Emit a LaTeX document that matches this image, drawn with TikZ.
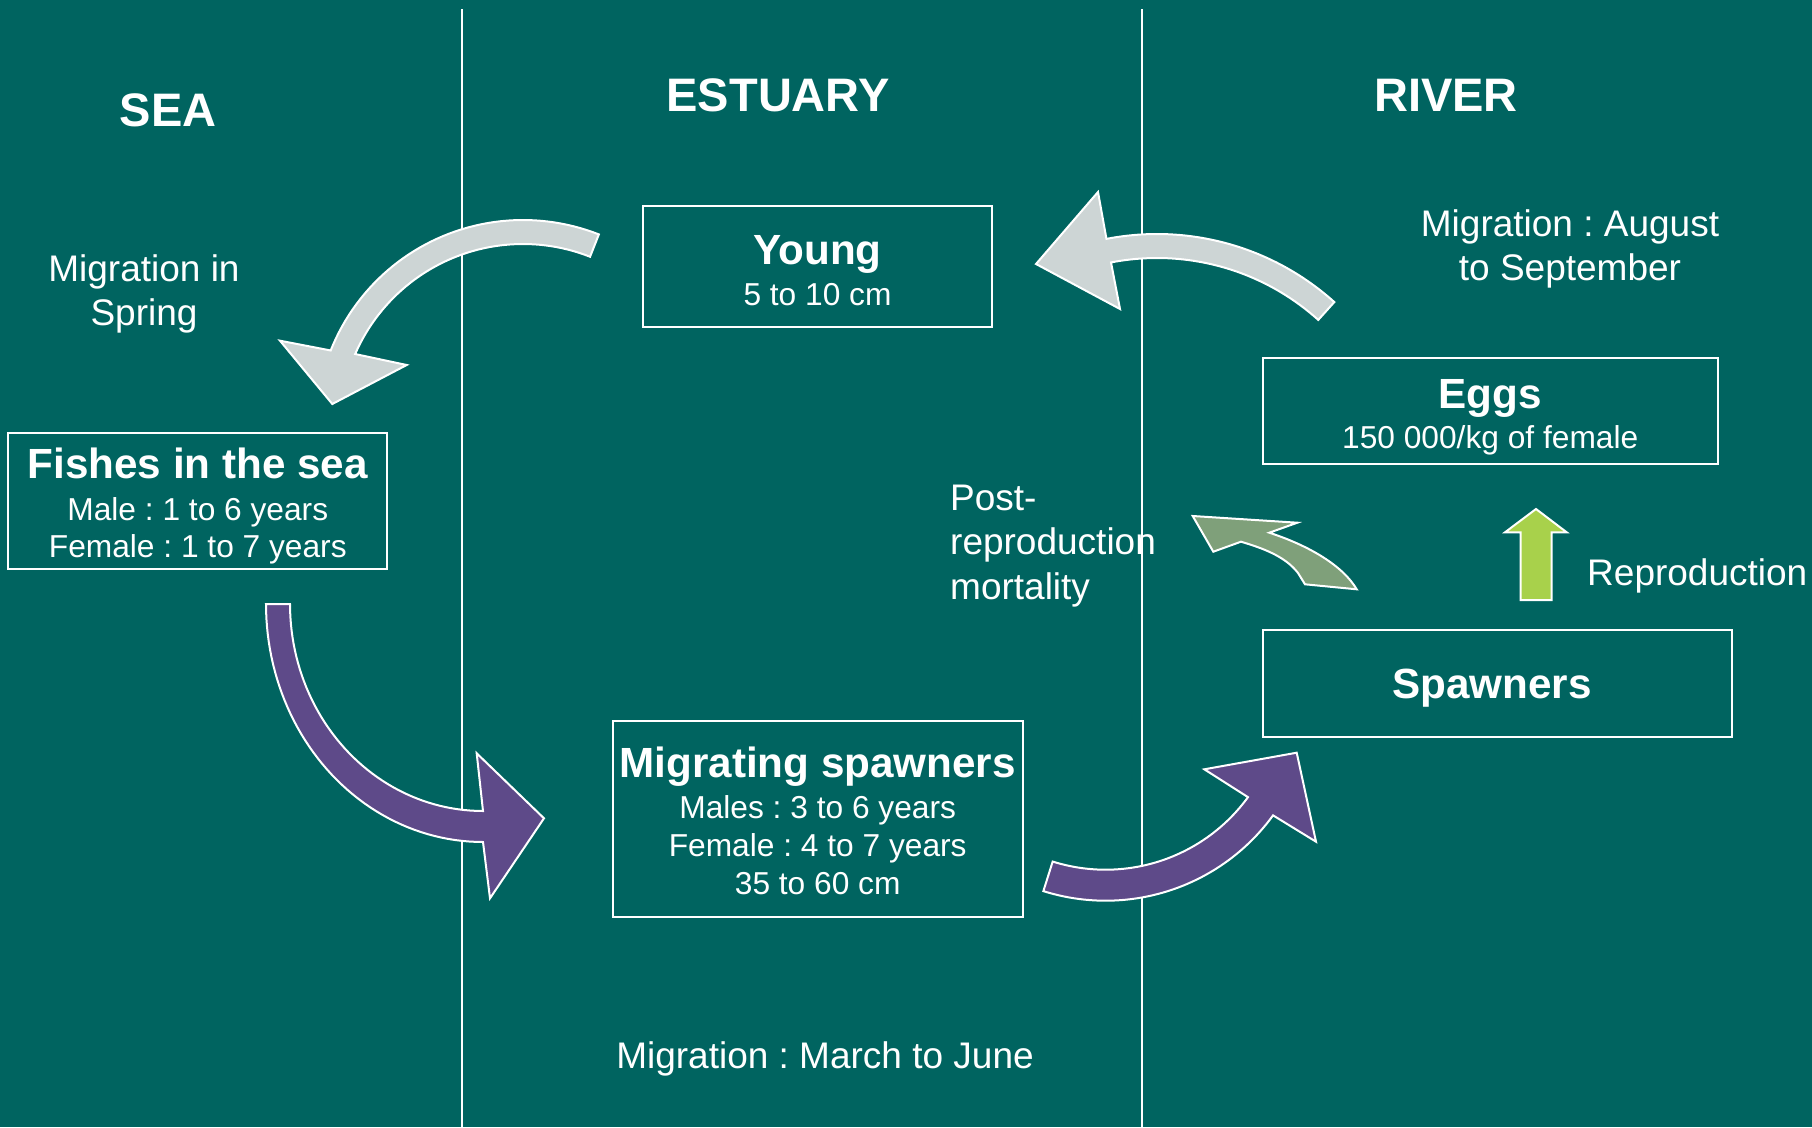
\documentclass[tikz,border=0pt]{standalone}
\usepackage{fontspec}
\setmainfont{Liberation Sans}
\frenchspacing
\definecolor{bgteal}{RGB}{0,100,96}
\definecolor{greyarr}{RGB}{205,213,213}
\definecolor{purplearr}{RGB}{94,74,137}
\definecolor{mortgreen}{RGB}{127,160,122}
\definecolor{repgreen}{RGB}{168,209,75}
\begin{document}
\frenchspacing
\begin{tikzpicture}[x=1pt,y=-1pt,
  box/.style={draw=white, line width=2pt, inner sep=0pt, outer sep=0pt},
  ttl/.style={text=white, font=\fontsize{47}{56}\selectfont\bfseries, inner sep=0pt, anchor=base},
  hd/.style={text=white, font=\fontsize{42.2}{50}\selectfont\bfseries, inner sep=0pt, anchor=base},
  sb/.style={text=white, font=\fontsize{31.7}{38}\selectfont, inner sep=0pt, anchor=base},
  lbl/.style={text=white, font=\fontsize{37}{44}\selectfont, inner sep=0pt, anchor=base},
  lbll/.style={lbl, anchor=base west},
  blk/.style={draw=white, line width=2pt, line join=miter}]

% background and bounding box
\fill[bgteal] (0,0) rectangle (1812,1127);
\useasboundingbox (0,0) rectangle (1812,1127);

% dividers
\coordinate (d1t) at (462,9);
\coordinate (d1b) at (462,1127);
\coordinate (d2t) at (1142,9);
\coordinate (d2b) at (1142,1127);
\draw[white, line width=2pt] (d1t) -- (d1b);
\draw[white, line width=2pt] (d2t) -- (d2b);

% zone titles
\node[ttl] (tsea) at (168.3,126.7) {SEA};
\node[ttl] (test) at (778,111.7) {ESTUARY};
\node[ttl] (triv) at (1446,111.7) {RIVER};

% boxes
\node[box, minimum width=348.4pt, minimum height=121.3pt] (young) at (817.5,266.7) {};
\node[box, minimum width=379pt, minimum height=136.6pt] (fishes) at (197.8,501) {};
\node[box, minimum width=410pt, minimum height=196.6pt] (migr) at (817.7,819) {};
\node[box, minimum width=455pt, minimum height=105.7pt] (eggs) at (1490.2,411.2) {};
\node[box, minimum width=469.6pt, minimum height=106.7pt] (spawn) at (1497.5,683.4) {};

% box texts
\node[hd] (youngH) at (817.5,264) {Young};
\node[sb] (youngS) at (817.5,305) {5 to 10 cm};

\node[hd] (fishH) at (197.8,478.3) {Fishes in the sea};
\node[sb] (fishS1) at (197.8,520) {Male : 1 to 6 years};
\node[sb] (fishS2) at (197.8,557.3) {Female : 1 to 7 years};

\node[hd] (migrH) at (817.7,777.7) {Migrating spawners};
\node[sb] (migrS1) at (817.7,818.3) {Males : 3 to 6 years};
\node[sb] (migrS2) at (817.7,856.7) {Female : 4 to 7 years};
\node[sb] (migrS3) at (817.7,894.3) {35 to 60 cm};

\node[hd] (eggsH) at (1490.2,408.3) {Eggs};
\node[sb] (eggsS) at (1490.2,448.3) {150 000/kg of female};

\node[hd] (spawnH) at (1492,698.3) {Spawners};

% labels
\node[lbl] (lspring1) at (144,281.7) {Migration in};
\node[lbl] (lspring2) at (144,325) {Spring};
\node[lbl] (laug1) at (1570,236.7) {Migration : August};
\node[lbl] (laug2) at (1570,280) {to September};
\node[lbll] (lpost1) at (950,510) {Post-};
\node[lbll] (lpost2) at (950,554.5) {reproduction};
\node[lbll] (lpost3) at (950,599) {mortality};
\node[lbll] (lrepro) at (1587,585) {Reproduction};
\node[lbl] (lmarch) at (825,1068) {Migration : March to June};

% grey arrow: young -> fishes in the sea
\filldraw[blk, fill=greyarr]
  plot[domain=-68.5:-158.3, samples=50] ({523+207*cos(\x)},{427+207*sin(\x)})
  -- (280,340.7) -- (332.3,404) -- (406.7,365)
  -- plot[domain=-156.5:-68.5, samples=50] ({523+183*cos(\x)},{427+183*sin(\x)})
  -- cycle;

% grey arrow: river -> young
\filldraw[blk, fill=greyarr]
  plot[domain=-48:-101, samples=50] ({1157+265*cos(\x)},{499+265*sin(\x)})
  -- (1098,192) -- (1036,264) -- (1120,309)
  -- plot[domain=-101:-48, samples=50] ({1157+241*cos(\x)},{499+241*sin(\x)})
  -- cycle;

% purple arrow: fishes -> migrating spawners
\filldraw[blk, fill=purplearr]
  plot[domain=180:90, samples=50] ({483+217*cos(\x)},{604+238*sin(\x)})
  -- (490,898.3) -- (544,818.3) -- (476.7,753.3)
  -- plot[domain=90:180, samples=50] ({483+193*cos(\x)},{604+207*sin(\x)})
  -- cycle;

% purple arrow: migrating spawners -> spawners
\filldraw[blk, fill=purplearr]
  plot[domain=107.5:36, samples=50] ({1105.6+207*cos(\x)},{693.7+207*sin(\x)})
  -- (1316,841.7) -- (1296.7,752.7) -- (1204.3,769.3)
  -- plot[domain=36:107.5, samples=50] ({1105.6+176*cos(\x)},{693.7+176*sin(\x)})
  -- cycle;

% post-reproduction mortality arrow
\filldraw[blk, fill=mortgreen]
  (1192.7,516) -- (1297.3,522.7) -- (1269.3,532.7)
  .. controls (1310,546) and (1343,566) .. (1356.7,589.3)
  -- (1305,584.3) -- (1298,573)
  .. controls (1285,556) and (1262,548) .. (1241,541.7)
  -- (1213.3,551.7) -- cycle;

% reproduction arrow
\filldraw[blk, fill=repgreen]
  (1536,509) -- (1566.7,532.3) -- (1551.7,532.3) -- (1551.7,600)
  -- (1520.7,600) -- (1520.7,532.3) -- (1505,532.3) -- cycle;

\end{tikzpicture}
\end{document}
